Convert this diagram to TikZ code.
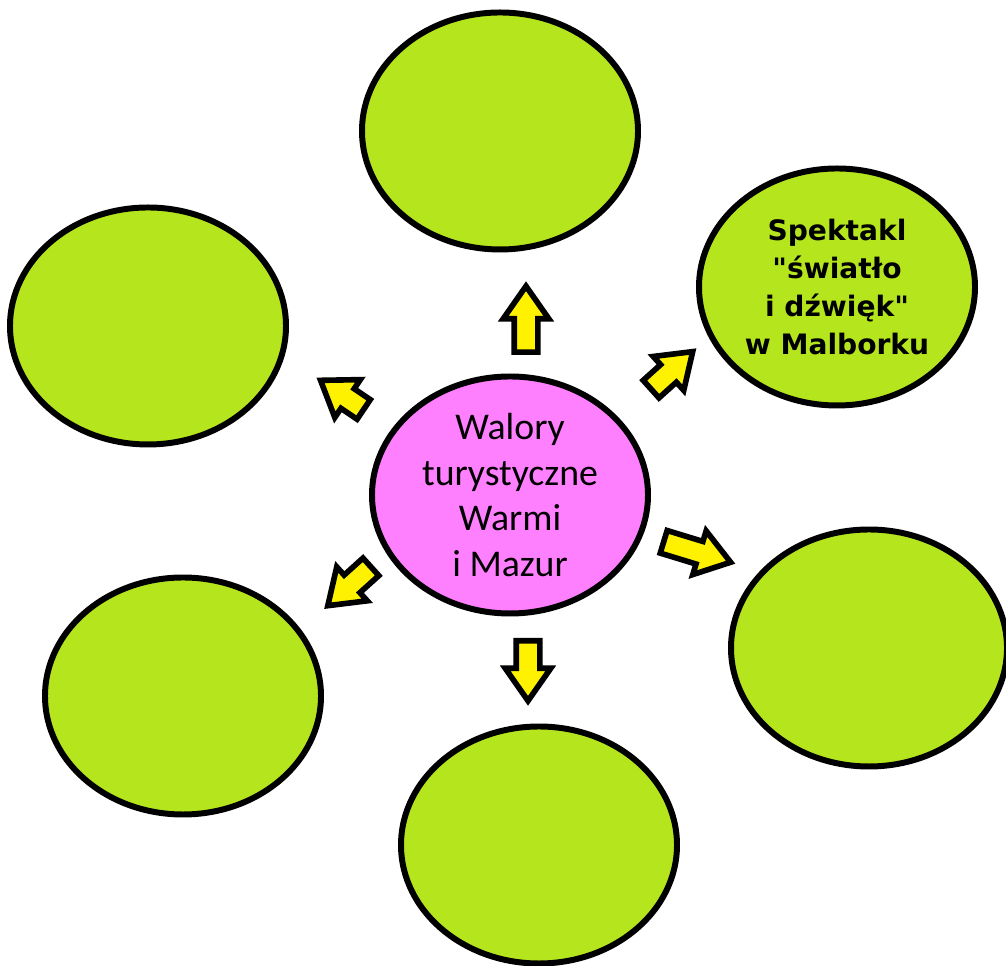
\documentclass[tikz,border=0pt]{standalone}
\usepackage{fontspec}
\setmainfont{Carlito}
\newfontfamily\boldsans{DejaVu Sans}
\usetikzlibrary{shapes.geometric,shapes.arrows}
\definecolor{lime}{HTML}{B5E61D}
\definecolor{pinky}{HTML}{FF80FF}
\definecolor{yel}{HTML}{FFF200}

\begin{document}
\begin{tikzpicture}[
    bubble/.style={ellipse, draw, line width=3.4pt, fill=lime,
      minimum width=5.52cm, minimum height=4.74cm, inner sep=0pt},
    blockarrow/.style={single arrow, draw, line width=3.2pt, fill=yel,
      minimum height=1.3cm, inner xsep=0pt, inner ysep=0.18cm, anchor=tail,
      single arrow head extend=0.22cm, single arrow tip angle=70, rotate=#1},
    blockarrow/.default=0
  ]
    \useasboundingbox (0,0) rectangle (20.12,19.32);
    % middle
    \node[bubble, fill=pinky, align=center, font=\fontsize{21.5}{26}\selectfont]
      (walory) at (10.20,9.42) {Walory\\turystyczne\\Warmi\\i Mazur};
    % the six around
    \node[bubble] (top) at (10.00,16.70) {};
    \node[bubble] (lefttop) at (2.96,12.80) {};
    \node[bubble, align=center, font=\boldsans\bfseries\fontsize{16}{21.6}\selectfont]
      (spektakl) at (16.74,13.58) {Spektakl\\"światło\\i dźwięk"\\w Malborku};
    \node[bubble] (rightbottom) at (17.38,6.36) {};
    \node[bubble] (bottom) at (10.78,2.42) {};
    \node[bubble] (leftbottom) at (3.66,5.40) {};
    % arrows, placed by their tails
    \node[blockarrow=90, minimum height=1.32cm] (toTop) at (10.52,12.22) {};
    \node[blockarrow=42, minimum height=1.12cm] (toSpektakl) at (12.98,11.50) {};
    \node[blockarrow=-17, minimum height=1.4cm] (toRightbottom) at (13.22,8.50) {};
    \node[blockarrow=-90, minimum height=1.2cm] (toBottom) at (10.56,6.56) {};
    \node[blockarrow=222, minimum height=1.16cm] (toLeftbottom) at (7.46,8.02) {};
    \node[blockarrow=146, minimum height=1.04cm] (toLefttop) at (7.32,11.10) {};
\end{tikzpicture}
\end{document}
